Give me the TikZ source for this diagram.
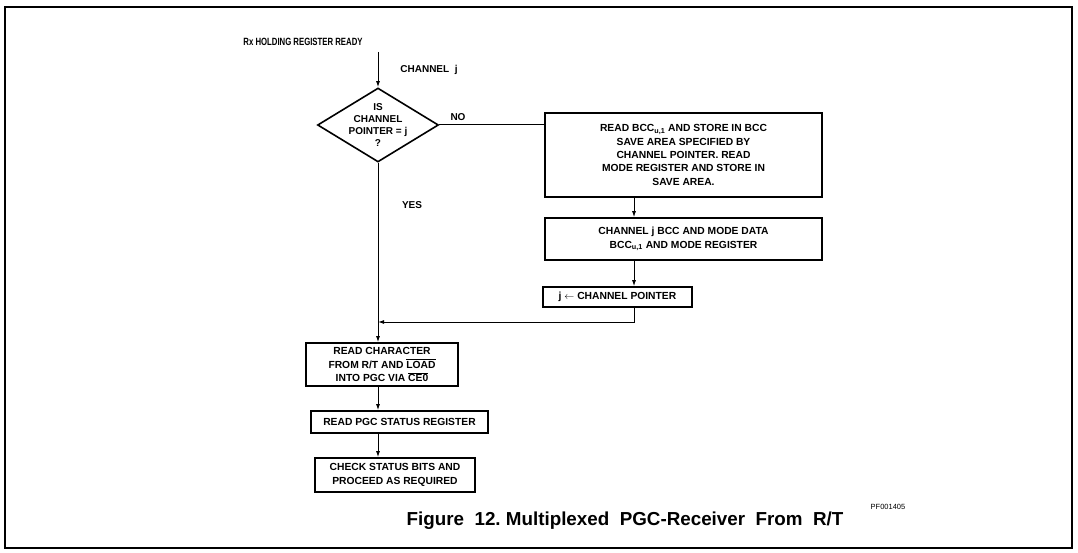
\documentclass[tikz,border=0pt]{standalone}
\usepackage{fontspec}
\setmainfont{Liberation Sans}
\usetikzlibrary{shapes.geometric,arrows.meta}

\tikzset{
  lbl/.style={font=\bfseries\fontsize{10}{12}\selectfont, inner sep=0pt},
  box/.style={draw, line width=1.6pt, align=center, inner sep=0pt,
    font=\bfseries\fontsize{10.3}{13.3}\selectfont},
  dec/.style={draw, diamond, line width=1.6pt, inner sep=0pt},
  flow/.style={line width=1pt, -{Latex[length=6pt,width=4pt]}},
  wire/.style={line width=1pt}
}

\begin{document}
\begin{tikzpicture}[x=1pt, y=-1pt]
            \useasboundingbox (0,0) rectangle (1078,553);
            \draw[line width=1.2pt] (5,7) rectangle (1072,548);

            \def\xm{378}
            \def\xv{634}

            \node[lbl] (ready) at (303,42) {\scalebox{0.74}[1]{\fontsize{10.5}{12}\selectfont Rx HOLDING REGISTER READY}};
            \coordinate (start) at (\xm,52);
            \node[lbl] (chj) at (429,70) {CHANNEL\ \ j};

            \node[dec, minimum width=121pt, minimum height=74pt] (isch) at (\xm,125) {};
            \node[lbl, align=center, font=\bfseries\fontsize{10}{11.8}\selectfont] at (isch) {IS\\CHANNEL\\POINTER = j\\?};
            \node[lbl] (no) at (458,117) {NO};
            \node[lbl] (yes) at (412,205) {YES};

            \node[box, minimum width=277pt, minimum height=84pt] (save) at (683.5,155)
              {READ BCC\textsubscript{u,1} AND STORE IN BCC\\SAVE AREA SPECIFIED BY\\CHANNEL POINTER. READ\\MODE REGISTER AND STORE IN\\SAVE AREA.};
            \node[box, minimum width=277pt, minimum height=42pt] (mode) at (683.5,239)
              {CHANNEL j BCC AND MODE DATA\\BCC\textsubscript{u,1} AND MODE REGISTER};
            \node[box, minimum width=149pt, minimum height=20pt] (ptr) at (617.5,297)
              {j $\leftarrow$ CHANNEL POINTER};
            \coordinate (join) at (\xm,322);

            \node[box, minimum width=152pt, minimum height=43pt] (rdch) at (382,364.5)
              {READ CHARACTER\\FROM R/T AND $\overline{\mbox{LOAD}}$\\INTO PGC VIA $\overline{\mbox{CE0}}$};
            \node[box, minimum width=177pt, minimum height=22pt] (rdst) at (399.5,422)
              {READ PGC STATUS REGISTER};
            \node[box, minimum width=160pt, minimum height=34pt] (chk) at (395,475)
              {CHECK STATUS BITS AND\\PROCEED AS REQUIRED};

            \draw[flow] (start) -- (isch.north);
            \draw[wire] (isch.east) -- (save.west |- isch.east);
            \draw[flow] (save.south -| \xv,0) -- (mode.north -| \xv,0);
            \draw[flow] (mode.south -| \xv,0) -- (ptr.north -| \xv,0);
            \draw[flow] (ptr.south -| \xv,0) |- (join);
            \draw[flow] (isch.south) -- (rdch.north -| isch);
            \draw[flow] (rdch.south -| isch) -- (rdst.north -| isch);
            \draw[flow] (rdst.south -| isch) -- (chk.north -| isch);

            \node[font=\fontsize{7.5}{8}\selectfont] (pf) at (888,507) {PF001405};
            \node[font=\bfseries\fontsize{18.8}{22}\selectfont] (cap) at (625,521)
              {Figure\ \ 12.\ Multiplexed\ \ PGC-Receiver\ \ From\ \ R/T};
        \end{tikzpicture}
\end{document}
